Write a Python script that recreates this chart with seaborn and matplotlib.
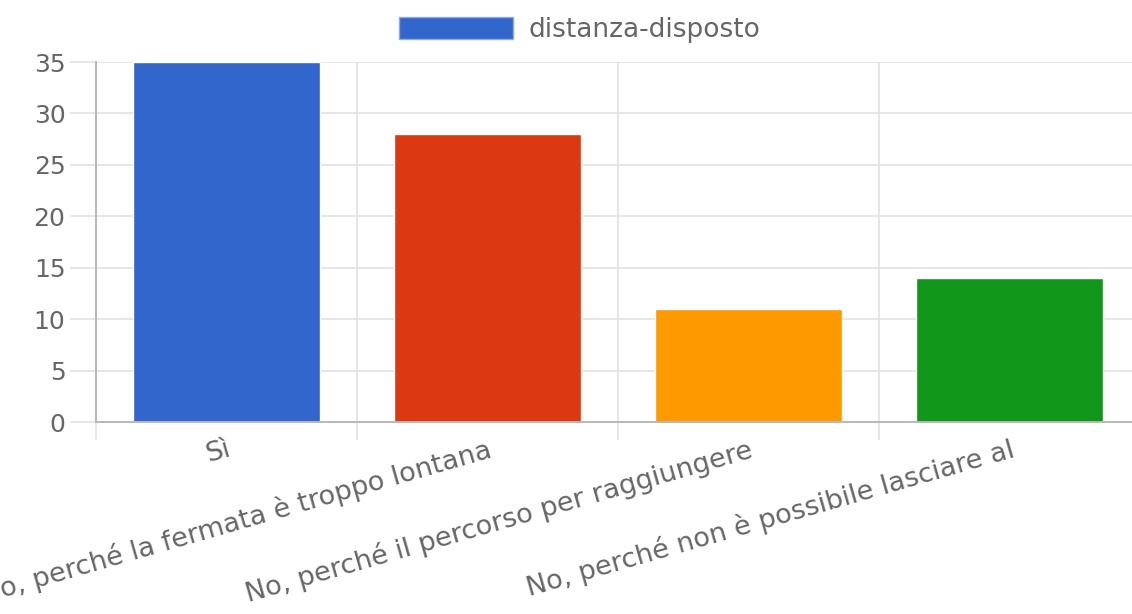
import matplotlib
matplotlib.use("Agg")
import matplotlib.pyplot as plt
import seaborn as sns
import pandas as pd
from matplotlib.patches import Patch

categories = [
    "Sì",
    "No, perché la fermata è troppo lontana",
    "No, perché il percorso per raggiungere",
    "No, perché non è possibile lasciare al",
]
values = [35, 28, 11, 14]
colors = ["#3366CC", "#DC3912", "#FF9900", "#109618"]
series_name = "distanza-disposto"
y_ticks = [0, 5, 10, 15, 20, 25, 30, 35]

sns.set_theme(style="white")
plt.rcParams["font.family"] = ["DejaVu Sans"]

df = pd.DataFrame({"cat": categories, "val": values})

fig = plt.figure(figsize=(11.32, 6.14), dpi=100)
ax = fig.add_axes([96 / 1132, 192 / 614, 1044 / 1132, 360 / 614])

sns.barplot(data=df, x="cat", y="val", hue="cat", palette=colors,
            order=categories, hue_order=categories, width=0.72,
            dodge=False, legend=False, ax=ax, saturation=1)

ax.set_xlim(-0.5, 3.5)
ax.set_ylim(0, 35)
ax.set_xlabel("")
ax.set_ylabel("")

grid_c = "#e2e2e2"
axis_c = "#b8b8b8"
text_c = "#666666"

ax.set_yticks(y_ticks)
ax.set_yticklabels([str(v) for v in y_ticks])
ax.tick_params(axis="y", length=19, width=1.2, color=grid_c, pad=3,
               labelsize=18, labelcolor=text_c, left=True)
ax.yaxis.grid(True, color=grid_c, linewidth=1.2)

ax.set_xticks(range(len(categories)))
ax.set_xticks([-0.5, 0.5, 1.5, 2.5], minor=True)
ax.xaxis.grid(True, which="minor", color=grid_c, linewidth=1.2)
ax.tick_params(axis="x", which="major", length=0, pad=10)
ax.tick_params(axis="x", which="minor", length=13, width=1.2, color=grid_c, bottom=True)
ax.set_xticklabels(categories, rotation=16, ha="right", rotation_mode="anchor",
                   fontsize=19.5, color=text_c, va="top")
ax.set_axisbelow(True)

for s in ["top", "right"]:
    ax.spines[s].set_visible(False)
for s in ["left", "bottom"]:
    ax.spines[s].set_color(axis_c)
    ax.spines[s].set_linewidth(1.4)

handle = Patch(facecolor=colors[0], edgecolor="#8fa9e0", linewidth=1)
fig.legend([handle], [series_name], loc="center", bbox_to_anchor=(580 / 1132, 1 - 30 / 614),
           frameon=False, fontsize=19, labelcolor=text_c,
           handlelength=4.3, handleheight=0.87, handletextpad=0.6)

fig.savefig("out.png", dpi=100)
